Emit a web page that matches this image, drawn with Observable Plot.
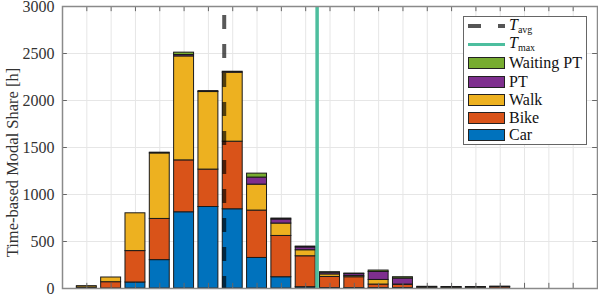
<!DOCTYPE html>
<html><head><meta charset="utf-8">
<script src="https://cdn.jsdelivr.net/npm/d3@7"></script>
<script src="https://cdn.jsdelivr.net/npm/@observablehq/plot@0.6"></script>
<style>
body{margin:0;background:#fff;}
#wrap{position:relative;width:598px;height:295px;font-family:"Liberation Serif",serif;}
#legend{position:absolute;left:463px;top:16px;width:124px;height:129px;border:1px solid #666;background:#fff;box-sizing:border-box;}
.sw{position:absolute;left:4px;width:37px;height:12px;border:1px solid #222;box-sizing:border-box;}
.lb{position:absolute;left:45px;font-size:16px;line-height:18px;color:#111;white-space:nowrap;}
.ln{position:absolute;}
sub{font-size:10px;font-style:normal;vertical-align:-3px;line-height:0;}
</style>
</head><body>
<div id="wrap"></div>
<script>
// ---- data ----
const bins = d3.range(1, 22);
const car     = [0, 0, 64, 302, 811, 867, 843, 325, 120, 14, 5, 5, 5, 5, 0, 0, 0, 0, 0, 0, 0];
const bike    = [10, 67, 334, 438, 552, 398, 719, 504, 439, 329, 118, 115, 37, 35, 8, 8, 8, 15, 0, 0, 0];
const walk    = [15, 50, 402, 697, 1106, 825, 734, 276, 132, 64, 27, 14, 49, 2, 4, 4, 4, 0, 0, 0, 0];
const pt      = [0, 0, 0, 8, 15, 10, 10, 75, 43, 30, 18, 20, 85, 64, 6, 4, 4, 5, 0, 0, 0];
const waiting = [0, 0, 0, 0, 25, 0, 0, 42, 10, 9, 5, 5, 15, 14, 0, 0, 0, 0, 0, 0, 0];
const modes = ["Car", "Bike", "Walk", "PT", "Waiting PT"];
const modeColors = ["#0072BD", "#D95319", "#EDB120", "#7E2F8E", "#77AC30"];
const yTicks = [0, 500, 1000, 1500, 2000, 2500, 3000];
const tAvg = 6.65;
const tMax = 10.47;
const yLabel = "Time-based Modal Share [h]";

// stacked table built from the arrays
const series = [car, bike, walk, pt, waiting];
const rows = [];
bins.forEach((b, i) => {
  let acc = 0;
  series.forEach((s, k) => {
    const v = s[i];
    if (v > 0) rows.push({bin: b, mode: modes[k], y1: acc, y2: acc + v});
    acc += v;
  });
});

const grid = "#e6e6e6", tickCol = "#666";
const chart = Plot.plot({
  width: 598, height: 295,
  marginLeft: 62, marginRight: 1, marginTop: 6, marginBottom: 7,
  x: {domain: [0, 22], axis: null},
  y: {domain: [0, 3000], axis: null},
  color: {domain: modes, range: modeColors},
  style: {fontFamily: "Liberation Serif, serif", fontSize: "16px", color: "#333", background: "#fff"},
  marks: [
    Plot.ruleY(yTicks, {stroke: grid, strokeWidth: 1}),
    Plot.ruleX(bins, {stroke: grid, strokeWidth: 1}),
    Plot.rect(rows, {x1: d => d.bin - 0.41, x2: d => d.bin + 0.41, y1: "y1", y2: "y2",
      fill: "mode", stroke: "#1a1a1a", strokeWidth: 1}),
    Plot.ruleX([tAvg], {x: d => d, y1: () => 3000, y2: () => 0, stroke: "black", strokeOpacity: 0.65,
      strokeWidth: 4, strokeDasharray: "14,15", strokeDashoffset: 20}),
    Plot.ruleX([tMax], {x: d => d, stroke: "#4DBE9E", strokeWidth: 3.5}),
    Plot.ruleY(yTicks, {x1: () => 0, x2: () => 0.2, stroke: tickCol}),
    Plot.ruleY(yTicks, {x1: () => 21.8, x2: () => 22, stroke: tickCol}),
    Plot.ruleX(bins, {y1: () => 0, y2: () => 55, stroke: tickCol}),
    Plot.ruleX(bins, {y1: () => 3000, y2: () => 2945, stroke: tickCol}),
    Plot.frame({stroke: "#8a8a8a", strokeWidth: 1.5}),
    Plot.axisY(yTicks, {tickSize: 0, tickPadding: 8, label: null, tickFormat: d => String(d),
      fill: "#333", fontSize: 16}),
    Plot.text([yLabel], {frameAnchor: "left", dx: -50, dy: 15, rotate: -90, text: d => d,
      fontSize: 16.5, fill: "#333", textAnchor: "middle"})
  ]
});
const wrap = document.getElementById("wrap");
wrap.appendChild(chart);

// legend (real text)
const leg = document.createElement("div");
leg.id = "legend";
const centers = [9, 27, 46, 65, 83, 101, 118];
let html = "";
html += `<div class="ln" style="left:4px;top:${centers[0]-2}px;width:13px;height:4px;background:#555"></div>`;
html += `<div class="ln" style="left:34px;top:${centers[0]-2}px;width:7px;height:4px;background:#555"></div>`;
html += `<div class="lb" style="top:${centers[0]-10}px"><i>T</i><sub>avg</sub></div>`;
html += `<div class="ln" style="left:4px;top:${centers[1]-1.5}px;width:37px;height:3px;background:#4DBE9E"></div>`;
html += `<div class="lb" style="top:${centers[1]-10}px"><i>T</i><sub>max</sub></div>`;
const legOrder = [4, 3, 2, 1, 0];
legOrder.forEach((k, j) => {
  const c = centers[j + 2];
  html += `<div class="sw" style="top:${c-6}px;background:${modeColors[k]}"></div>`;
  html += `<div class="lb" style="top:${c-9}px">${modes[k]}</div>`;
});
leg.innerHTML = html;
wrap.appendChild(leg);
</script>
</body></html>
